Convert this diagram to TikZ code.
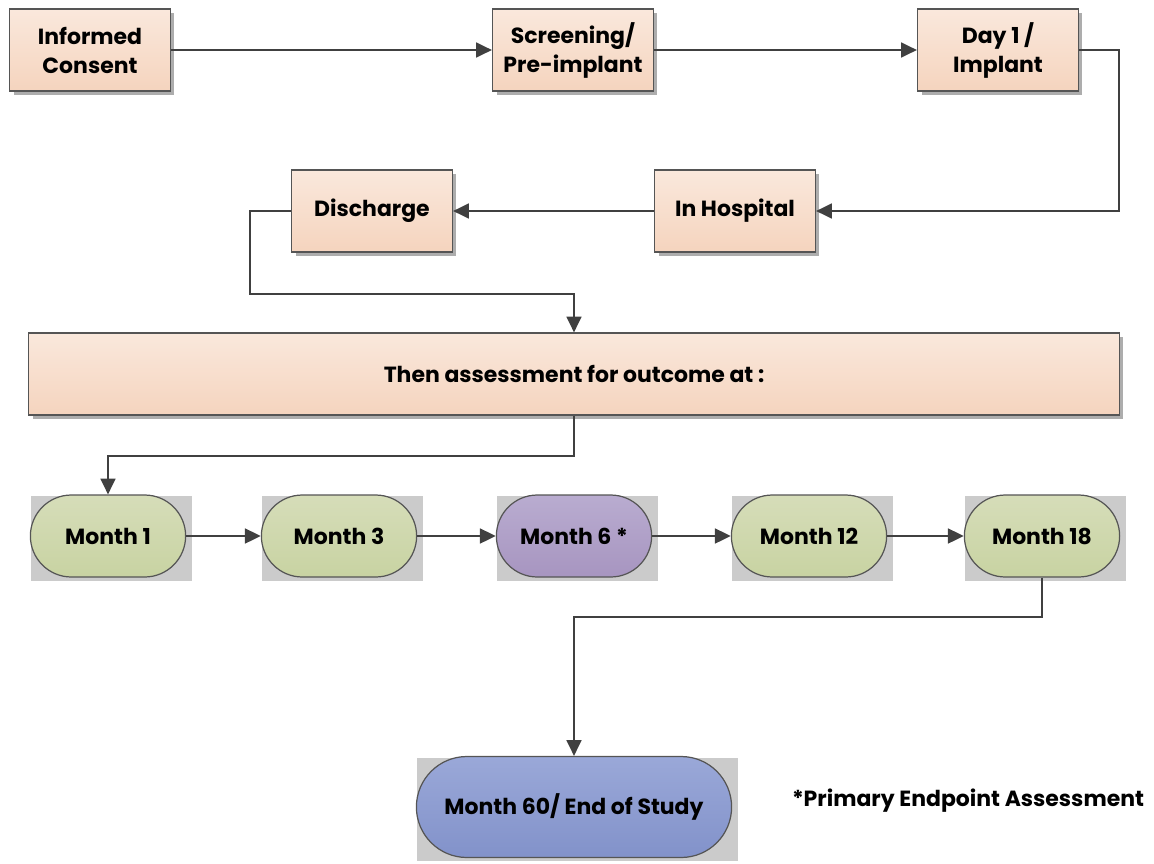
\documentclass[tikz,border=0pt]{standalone}
\usepackage{fontspec}
\setmainfont{Poppins}
\usetikzlibrary{positioning,shapes.misc,arrows.meta,shadows,backgrounds}
\definecolor{boxline}{HTML}{555555}
\definecolor{linegray}{HTML}{404040}
\definecolor{shadowgray}{HTML}{ADADAD}
\definecolor{backdrop}{HTML}{CBCBCB}
\definecolor{peachtop}{HTML}{FAE8DC}
\definecolor{peachbot}{HTML}{F5D4BE}
\definecolor{greentop}{HTML}{D6DDB9}
\definecolor{greenbot}{HTML}{C8D3A2}
\definecolor{purpletop}{HTML}{B9ACD0}
\definecolor{purplebot}{HTML}{A795C0}
\definecolor{bluetop}{HTML}{9AA8D8}
\definecolor{bluebot}{HTML}{8292CA}
\tikzset{%
  phase box/.style={
    rectangle,
    draw=boxline,
    line width=0.7pt,
    top color=peachtop,
    bottom color=peachbot,
    minimum width=3.22cm,
    minimum height=1.64cm,
    align=center,
    font=\bfseries\fontsize{12.5}{16.5}\selectfont,
    drop shadow={shadow xshift=0.08cm, shadow yshift=-0.08cm,
      fill=shadowgray, opacity=1}
  },
  visit pill/.style={
    rounded rectangle,
    draw=boxline,
    line width=0.7pt,
    minimum width=3.34cm,
    minimum height=1.64cm,
    font=\bfseries\fontsize{12.5}{16.5}\selectfont
  },
  pill green/.style={top color=greentop, bottom color=greenbot},
  pill purple/.style={top color=purpletop, bottom color=purplebot},
  pill blue/.style={top color=bluetop, bottom color=bluebot},
  link/.style={draw=linegray, line width=1.1pt, ->},
}

\begin{document}
\begin{tikzpicture}[x=0.02cm, y=-0.02cm, >={Triangle[length=9pt,width=8.5pt]}]

\useasboundingbox (0,0) rectangle (1154,863);

\node [phase box] (consent) at (90,50) {Informed\\Consent};
\node [phase box] (screening) at (573,50) {Screening/\\Pre-implant};
\node [phase box] (implant) at (998,50) {Day 1 /\\Implant};
\node [phase box] (hospital) at (735,211) {In Hospital};
\node [phase box] (discharge) at (372,211) {Discharge};
\node [phase box, minimum width=21.82cm] (assess) at (574,374)
  {Then assessment for outcome at :};

\foreach \l/\x/\c [count=\i] in {1/108/green,3/339/green,6 */574/purple,12/809/green,18/1042/green}
  \node [visit pill, pill \c] (month-\i) at (\x,536) {Month \l};

\node [visit pill, pill blue, minimum width=6.54cm, minimum height=2.02cm]
  (month-end) at (574,807) {Month 60/ End of Study};

\node [font=\bfseries\fontsize{12.5}{16.5}\selectfont] (note) at (968,801)
  {*Primary Endpoint Assessment};

\begin{scope}[on background layer]
  \foreach \n in {month-1,month-2,month-3,month-4,month-5,month-end}
    \fill [backdrop] ([shift={(1,3)}]\n.west |- \n.south)
      rectangle ([shift={(6,2)}]\n.east |- \n.north);
\end{scope}

\draw [link] (consent) -- (screening);
\draw [link] (screening) -- (implant);
\draw [link] (implant.east) -- ++(40,0) |- (hospital.east);
\draw [link] (hospital) -- (discharge);
\draw [link] (discharge.west) -- ++(-41,0) -- ++(0,83) -| (assess.north);
\draw [link] (assess.south) -- ++(0,40) -| (month-1.north);

\foreach \i/\j in {1/2,2/3,3/4,4/5}
  \draw [link] (month-\i) -- (month-\j);

\draw [link] (month-5.south) -- ++(0,39) -| (month-end.north);

\end{tikzpicture}
\end{document}
